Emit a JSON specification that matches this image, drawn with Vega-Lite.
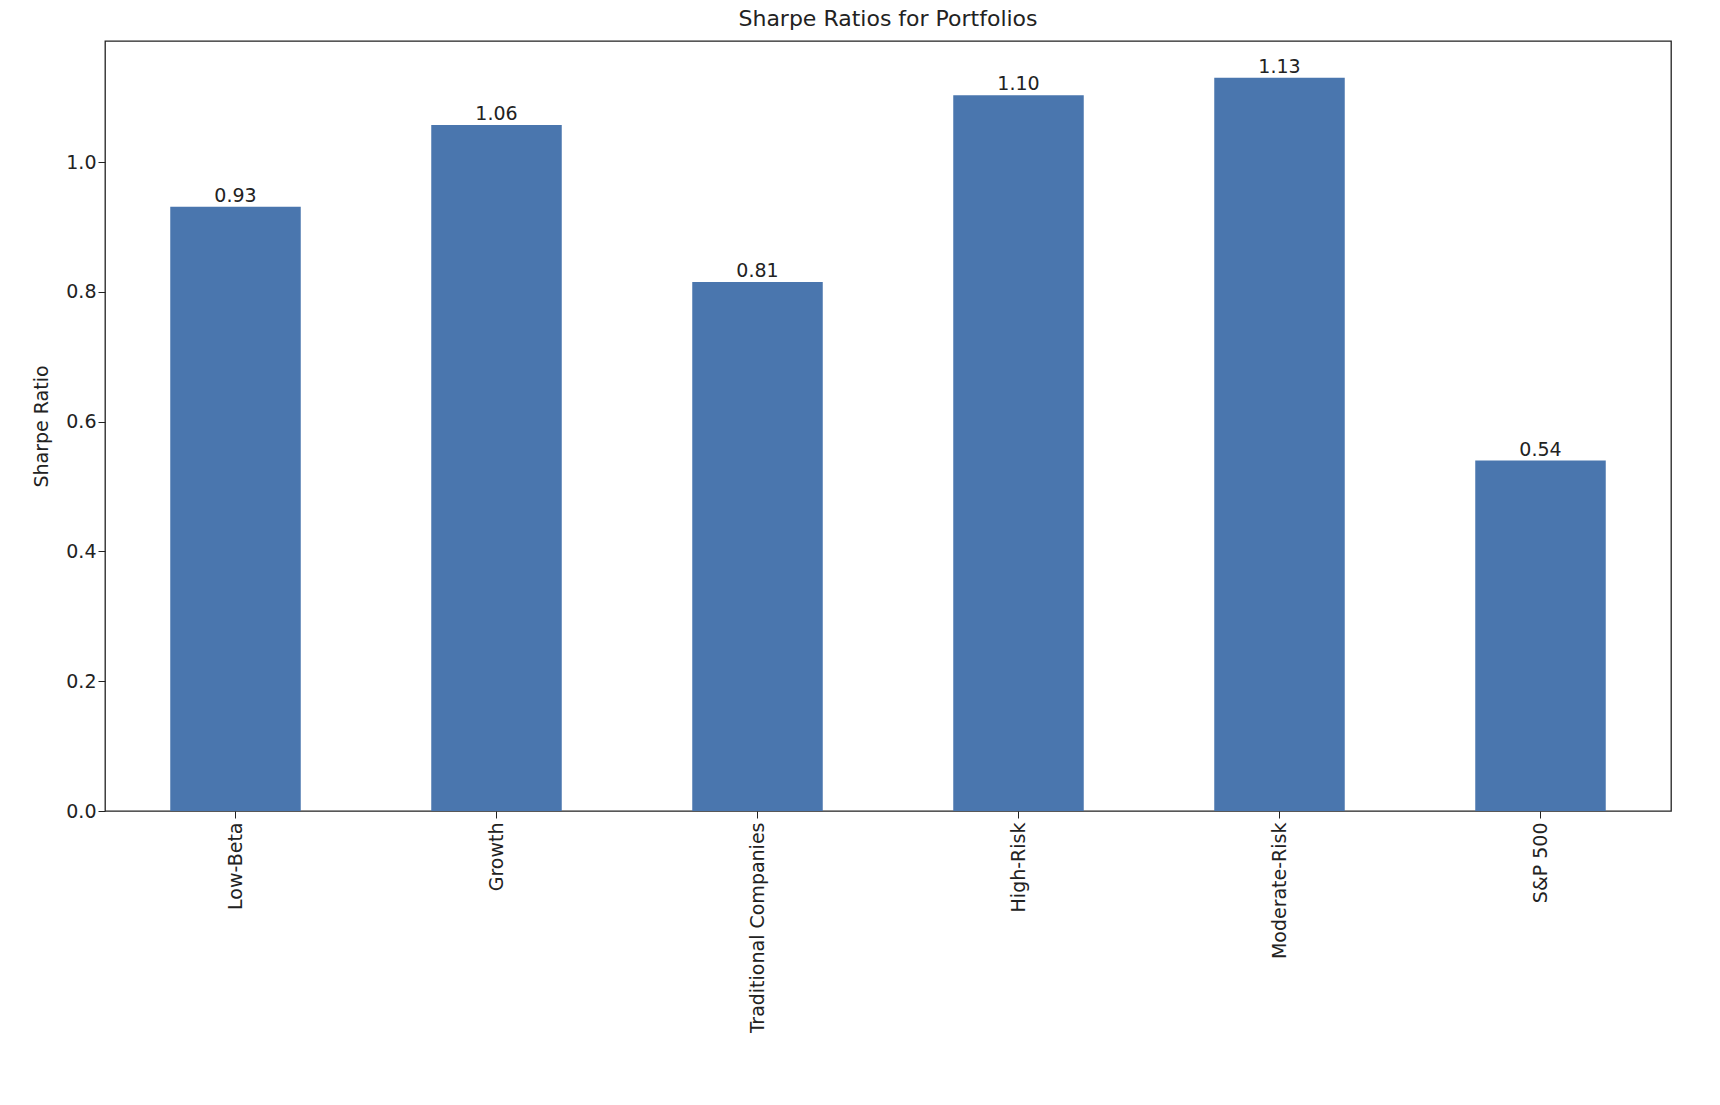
{
  "$schema": "https://vega.github.io/schema/vega-lite/v6.json",
  "width": 1566,
  "height": 770,
  "padding": {"left": 32, "top": 8, "right": 10, "bottom": 0},
  "background": "white",
  "title": {"text": "Sharpe Ratios for Portfolios", "font": "DejaVu Sans", "fontSize": 22, "fontWeight": "normal", "color": "#222", "offset": 10},
  "config": {"view": {"stroke": "#222", "strokeWidth": 1.3}, "font": "DejaVu Sans"},
  "data": {"values": [
    {"portfolio": "Low-Beta", "sharpe": 0.931},
    {"portfolio": "Growth", "sharpe": 1.057},
    {"portfolio": "Traditional Companies", "sharpe": 0.815},
    {"portfolio": "High-Risk", "sharpe": 1.103},
    {"portfolio": "Moderate-Risk", "sharpe": 1.130},
    {"portfolio": "S&P 500", "sharpe": 0.540}
  ]},
  "encoding": {
    "x": {"field": "portfolio", "type": "nominal", "sort": null,
      "scale": {"paddingInner": 0.5, "paddingOuter": 0.25},
      "axis": {"title": null, "labelAngle": -90, "labelFontSize": 19, "labelColor": "#222", "labelLimit": 500, "domain": false, "tickColor": "#222", "tickSize": 7, "labelPadding": 4}},
    "y": {"field": "sharpe", "type": "quantitative",
      "scale": {"domain": [0, 1.1865], "nice": false},
      "axis": {"title": "Sharpe Ratio", "titleFontSize": 19, "titleFontWeight": "normal", "titleColor": "#222", "titlePadding": 14, "labelFontSize": 19, "labelColor": "#222", "grid": false, "domain": false, "tickColor": "#222", "tickSize": 7, "values": [0, 0.2, 0.4, 0.6, 0.8, 1.0], "format": ".1f"}}
  },
  "layer": [
    {"mark": {"type": "bar", "color": "#4a76ae"}},
    {"mark": {"type": "text", "baseline": "bottom", "dy": -1, "fontSize": 19, "color": "#222"},
     "encoding": {"text": {"field": "sharpe", "type": "quantitative", "format": ".2f"}}}
  ]
}
